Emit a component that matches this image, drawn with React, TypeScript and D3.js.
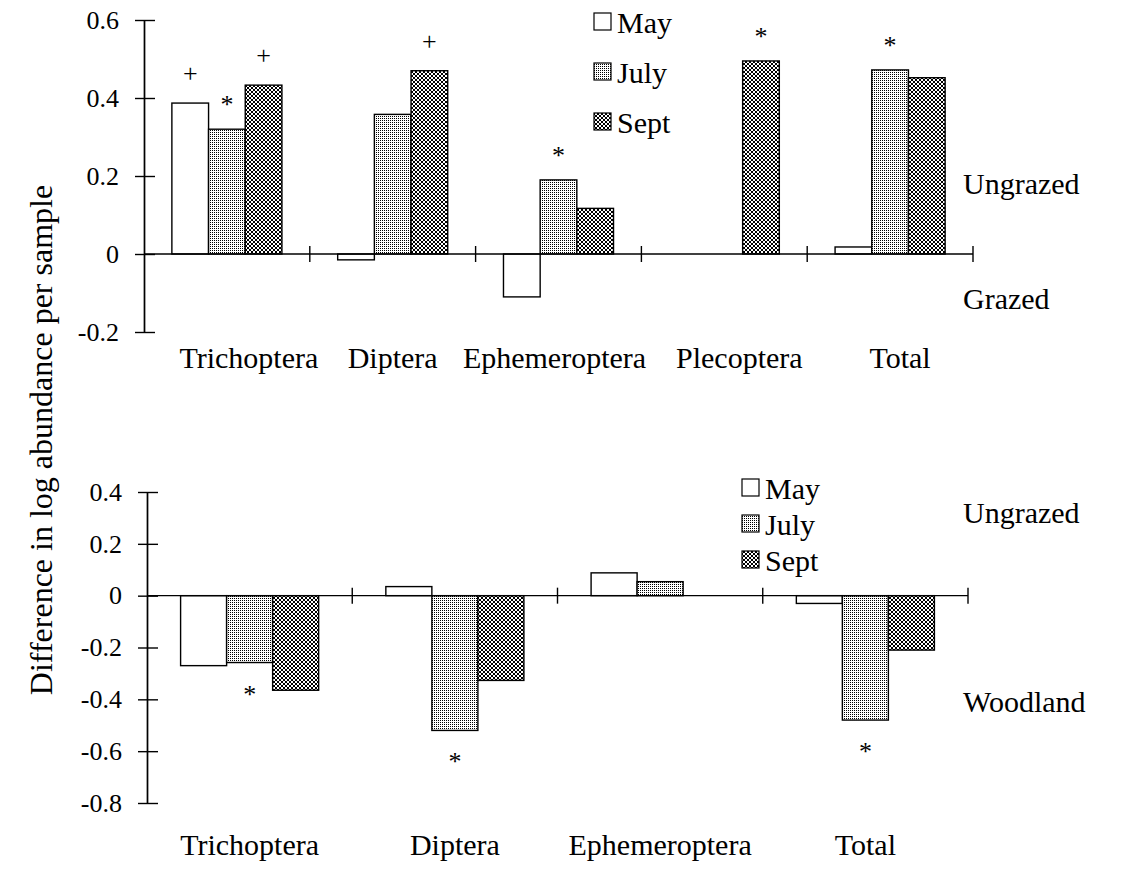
import React, { useRef, useEffect } from 'react';
import * as d3 from 'd3';

// --- data ---
const seriesNames = ['May', 'July', 'Sept'];

const topCategories = ['Trichoptera', 'Diptera', 'Ephemeroptera', 'Plecoptera', 'Total'];
const topMay = [0.387, -0.015, -0.11, null, 0.018];
const topJuly = [0.32, 0.358, 0.19, null, 0.472];
const topSept = [0.433, 0.47, 0.117, 0.495, 0.452];
const topTicks = [0.6, 0.4, 0.2, 0, -0.2];
const topLabelNudge = [22, 0, -4, 15, 10];
const topMarks = [
  { cat: 'Trichoptera', series: 'May', sym: '+' },
  { cat: 'Trichoptera', series: 'July', sym: '*' },
  { cat: 'Trichoptera', series: 'Sept', sym: '+' },
  { cat: 'Diptera', series: 'Sept', sym: '+' },
  { cat: 'Ephemeroptera', series: 'July', sym: '*' },
  { cat: 'Plecoptera', series: 'Sept', sym: '*' },
  { cat: 'Total', series: 'July', sym: '*' },
];

const bottomCategories = ['Trichoptera', 'Diptera', 'Ephemeroptera', 'Total'];
const bottomMay = [-0.27, 0.035, 0.088, -0.03];
const bottomJuly = [-0.258, -0.52, 0.054, -0.48];
const bottomSept = [-0.365, -0.327, null, -0.21];
const bottomTicks = [0.4, 0.2, 0, -0.2, -0.4, -0.6, -0.8];
const bottomMarks = [
  { cat: 'Trichoptera', series: 'July', sym: '*' },
  { cat: 'Diptera', series: 'July', sym: '*' },
  { cat: 'Total', series: 'July', sym: '*' },
];

const FONT = "'Liberation Serif', 'Times New Roman', serif";

const App = () => {
  const svgRef = useRef<SVGSVGElement>(null);

  useEffect(() => {
    const svg = d3.select(svgRef.current);
    svg.selectAll('*').remove();

    // fill patterns for the three months
    const defs = svg.append('defs');
    const pJuly = defs.append('pattern').attr('id', 'pJuly')
      .attr('patternUnits', 'userSpaceOnUse').attr('width', 2).attr('height', 2);
    pJuly.append('rect').attr('width', 2).attr('height', 2).attr('fill', '#fff');
    pJuly.append('rect').attr('width', 1).attr('height', 1).attr('fill', '#000');

    const pSept = defs.append('pattern').attr('id', 'pSept')
      .attr('patternUnits', 'userSpaceOnUse').attr('width', 4).attr('height', 4);
    pSept.append('rect').attr('width', 4).attr('height', 4).attr('fill', '#fff');
    [[0, 0], [1, 1], [2, 2], [3, 3], [3, 0], [2, 1], [1, 2], [0, 3]].forEach(([px, py]) =>
      pSept.append('rect').attr('x', px).attr('y', py).attr('width', 1).attr('height', 1).attr('fill', '#000'));

    const fills: Record<string, string> = { May: '#fff', July: 'url(#pJuly)', Sept: 'url(#pSept)' };

    const panel = (opts: {
      cats: string[]; values: (number | null)[][]; ticks: number[];
      domain: [number, number]; yRange: [number, number]; xRange: [number, number];
      pad: number; marks: { cat: string; series: string; sym: string }[];
      labelY: number; nudge: number[];
    }) => {
      const g = svg.append('g');
      const y = d3.scaleLinear().domain(opts.domain).range(opts.yRange);
      const x = d3.scaleBand().domain(opts.cats).range(opts.xRange).padding(0);
      const s = d3.scaleBand().domain(seriesNames).range([0, x.bandwidth()])
        .paddingInner(0).paddingOuter(opts.pad);

      // bars
      seriesNames.forEach((name, si) => {
        const data = opts.cats.map((c, i) => ({ c, v: opts.values[si][i] }))
          .filter(d => d.v !== null) as { c: string; v: number }[];
        g.selectAll(null).data(data).join('rect')
          .attr('x', d => x(d.c)! + s(name)!)
          .attr('width', s.bandwidth())
          .attr('y', d => y(Math.max(0, d.v)))
          .attr('height', d => Math.abs(y(d.v) - y(0)))
          .attr('fill', fills[name])
          .attr('stroke', '#000')
          .attr('stroke-width', 1.4);
      });

      // zero line with category separators
      const y0 = y(0);
      g.append('line').attr('x1', opts.xRange[0]).attr('x2', opts.xRange[1])
        .attr('y1', y0).attr('y2', y0).attr('stroke', '#000').attr('stroke-width', 1.4);
      g.selectAll(null).data(opts.cats).join('line')
        .attr('x1', d => x(d)! + x.bandwidth()).attr('x2', d => x(d)! + x.bandwidth())
        .attr('y1', y0 - 8).attr('y2', y0 + 8)
        .attr('stroke', '#000').attr('stroke-width', 1.4);

      // y axis, ticks cross the line
      const ax = opts.xRange[0];
      const left = g.append('g').attr('transform', `translate(${ax},0)`)
        .call(d3.axisLeft(y).tickValues(opts.ticks).tickSize(9).tickSizeOuter(0).tickPadding(16)
          .tickFormat(d => (+d === 0 ? '0' : (+d).toFixed(1))));
      g.append('g').attr('transform', `translate(${ax},0)`)
        .call(d3.axisRight(y).tickValues(opts.ticks).tickSize(11).tickSizeOuter(0).tickFormat(() => ''));
      g.selectAll('.domain, .tick line').attr('stroke', '#000').attr('stroke-width', 1.4);
      left.selectAll('text').attr('font-family', FONT).attr('font-size', 26).attr('fill', '#000');

      // category labels
      g.selectAll(null).data(opts.cats).join('text')
        .attr('x', (d, i) => x(d)! + x.bandwidth() / 2 + opts.nudge[i])
        .attr('y', opts.labelY)
        .attr('text-anchor', 'middle')
        .attr('font-family', FONT).attr('font-size', 30)
        .text(d => d);

      // significance marks
      g.selectAll(null).data(opts.marks).join('text')
        .attr('x', d => x(d.cat)! + s(d.series)! + s.bandwidth() / 2)
        .attr('y', d => {
          const si = seriesNames.indexOf(d.series);
          const v = opts.values[si][opts.cats.indexOf(d.cat)] as number;
          const shift = d.sym === '*' ? 12 : 7;
          return v >= 0 ? y(v) - 28 + shift : y(v) + 28 + shift;
        })
        .attr('text-anchor', 'middle')
        .attr('font-family', FONT).attr('font-size', 26)
        .text(d => d.sym);
    };

    panel({
      cats: topCategories, values: [topMay, topJuly, topSept], ticks: topTicks,
      domain: [-0.2, 0.6], yRange: [332, 20], xRange: [144, 973], pad: 0.76,
      marks: topMarks, labelY: 368, nudge: topLabelNudge,
    });
    panel({
      cats: bottomCategories, values: [bottomMay, bottomJuly, bottomSept], ticks: bottomTicks,
      domain: [-0.8, 0.4], yRange: [803, 492], xRange: [147, 968], pad: 0.73,
      marks: bottomMarks, labelY: 855, nudge: [0, 0, 0, 0],
    });

    // legends
    const legend = (x0: number, y0: number, step: number) => {
      const lg = svg.append('g');
      seriesNames.forEach((name, i) => {
        lg.append('rect').attr('x', x0).attr('y', y0 + i * step - 20)
          .attr('width', 17).attr('height', 17)
          .attr('fill', fills[name]).attr('stroke', '#000').attr('stroke-width', 1.2);
        lg.append('text').attr('x', x0 + 23).attr('y', y0 + i * step)
          .attr('font-family', FONT).attr('font-size', 30).text(name);
      });
    };
    legend(594, 33, 50);
    legend(742, 499, 36);

    // side labels
    const side = [
      { t: 'Ungrazed', y: 194 }, { t: 'Grazed', y: 309 },
      { t: 'Ungrazed', y: 523 }, { t: 'Woodland', y: 712 },
    ];
    svg.append('g').selectAll('text').data(side).join('text')
      .attr('x', 963).attr('y', d => d.y)
      .attr('font-family', FONT).attr('font-size', 30).text(d => d.t);

    // y title
    svg.append('text')
      .attr('transform', 'translate(52,440) rotate(-90)')
      .attr('text-anchor', 'middle')
      .attr('font-family', FONT).attr('font-size', 32)
      .text('Difference in log abundance per sample');
  }, []);

  return (
    <svg ref={svgRef} width={1128} height={870}
      style={{ position: 'absolute', left: 0, top: 0, background: '#fff' }} />
  );
};

export default App;
